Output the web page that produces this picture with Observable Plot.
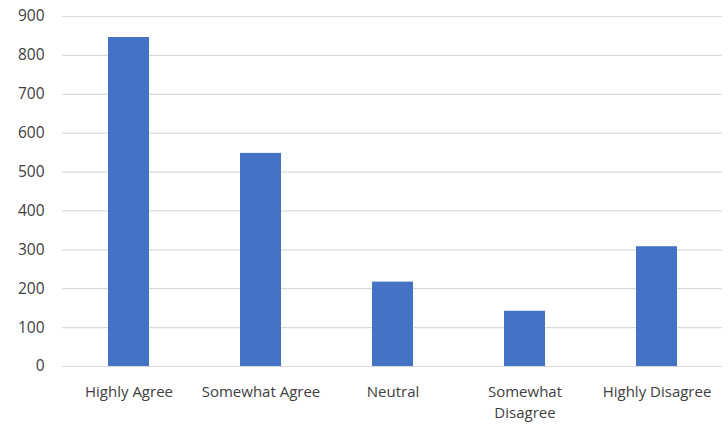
<!DOCTYPE html>
<html>
<head>
<meta charset="utf-8">
<script src="https://cdn.jsdelivr.net/npm/d3@7"></script>
<script src="https://cdn.jsdelivr.net/npm/@observablehq/plot@0.6"></script>
<style>
  html, body { margin: 0; padding: 0; background: #fff; }
  #chart { width: 728px; height: 424px; }
</style>
</head>
<body>
<div id="chart"></div>
<script>
const categories = ["Highly Agree", "Somewhat Agree", "Neutral", "Somewhat Disagree", "Highly Disagree"];
const values = [846, 548, 217, 142, 308];
const yTicks = [0, 100, 200, 300, 400, 500, 600, 700, 800, 900];
const tickLabels = {"Somewhat Disagree": "Somewhat\nDisagree"};

const data = categories.map((c, i) => ({category: c, value: values[i]}));

const chart = Plot.plot({
  width: 728,
  height: 424,
  marginLeft: 62,
  marginRight: 6,
  marginTop: 16,
  marginBottom: 58,
  style: {fontFamily: "'Open Sans', 'Noto Sans', sans-serif", fontSize: "15px", color: "#404040", background: "#fff"},
  x: {domain: categories, paddingInner: 0.69, paddingOuter: 0.345, label: null},
  y: {domain: [0, 900], label: null},
  marks: [
    Plot.ruleY(yTicks, {stroke: "#d9d9d9", strokeWidth: 1.2}),
    Plot.barY(data, {x: "category", y: "value", fill: "#4472c4"}),
    Plot.axisY({ticks: yTicks, tickSize: 0, tickPadding: 18, label: null, fontSize: 15.5, fill: "#404040"}),
    Plot.axisX({tickSize: 0, tickPadding: 16, label: null, fontSize: 15, lineHeight: 1.38, fill: "#404040", tickFormat: d => tickLabels[d] ?? d})
  ]
});
document.getElementById("chart").appendChild(chart);
</script>
</body>
</html>
